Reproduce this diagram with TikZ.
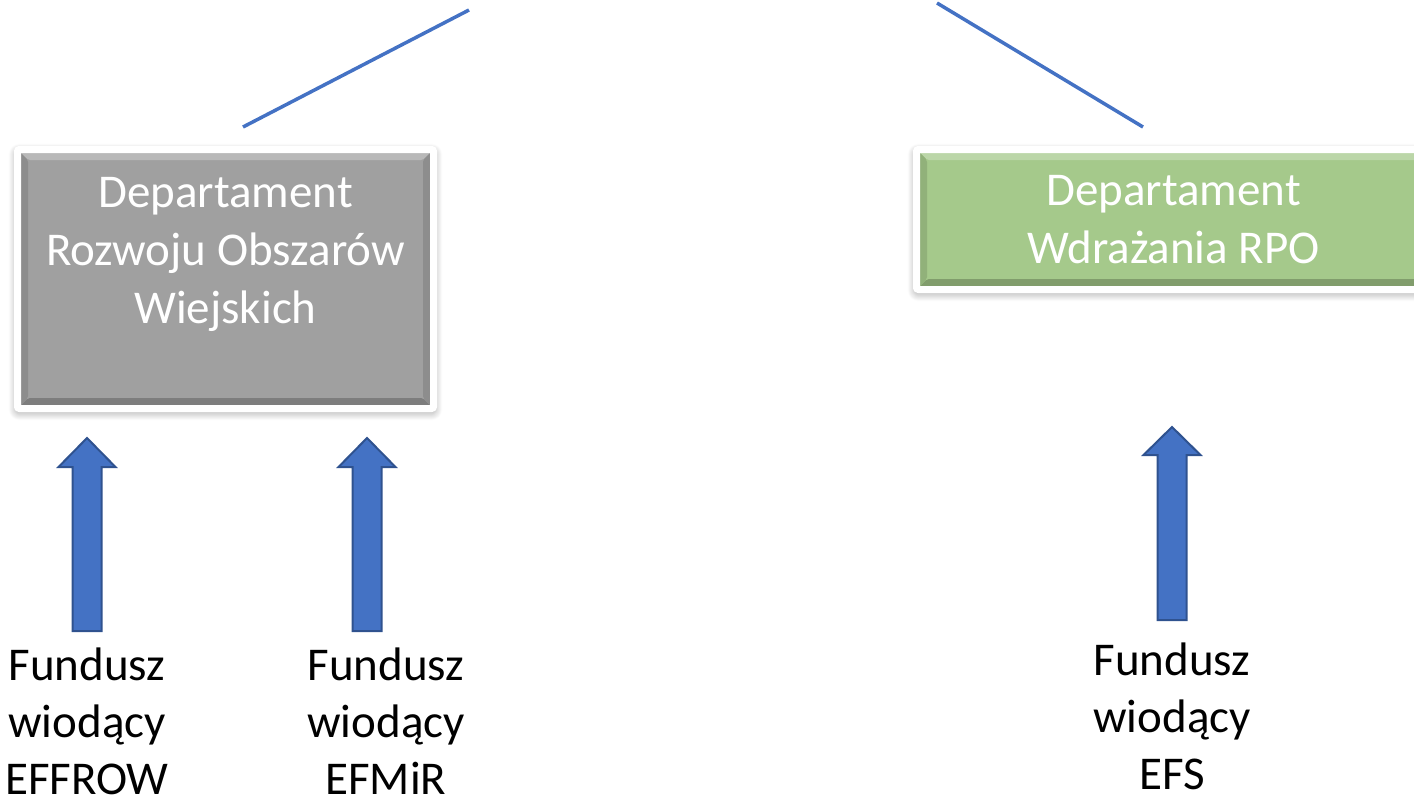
\documentclass[tikz,border=0pt]{standalone}
\usepackage{fontspec}
\setmainfont{Carlito}
\usetikzlibrary{positioning, shadows.blur, calc}
\definecolor{DeptGray}{HTML}{A0A0A0}
\definecolor{DeptGreen}{HTML}{A5C98B}
\definecolor{OfficeBlue}{HTML}{4472C4}
\definecolor{OfficeBlueDark}{HTML}{2F528F}
\tikzset{
    deptbox/.style={
        draw=white, line width=7pt, fill=#1, rounded corners=2pt,
        text=white, align=center, inner sep=0pt,
        font=\fontsize{47}{58}\selectfont,
        blur shadow={shadow xshift=0pt, shadow yshift=-3pt, shadow blur radius=9pt,
            shadow blur steps=12, shadow opacity=45},
        path picture={
            \coordinate (nw) at (path picture bounding box.north west);
            \coordinate (ne) at (path picture bounding box.north east);
            \coordinate (sw) at (path picture bounding box.south west);
            \coordinate (se) at (path picture bounding box.south east);
            \fill[#1!75!white] (nw) -- (ne) -- ($(ne)+(-10.5pt,-10.5pt)$) -- ($(nw)+(10.5pt,-10.5pt)$) -- cycle;
            \fill[#1!78!black] (sw) -- (se) -- ($(se)+(-10.5pt,10.5pt)$) -- ($(sw)+(10.5pt,10.5pt)$) -- cycle;
            \fill[#1!88!black] (nw) -- (sw) -- ($(sw)+(10.5pt,10.5pt)$) -- ($(nw)+(10.5pt,-10.5pt)$) -- cycle;
            \fill[#1!88!black] (ne) -- (se) -- ($(se)+(-10.5pt,10.5pt)$) -- ($(ne)+(-10.5pt,-10.5pt)$) -- cycle;
        }
    },
    blockarrow/.style={
        fill=OfficeBlue, draw=OfficeBlueDark, line width=2pt, line join=miter
    },
    fundlabel/.style={
        align=center, inner sep=0pt, font=\fontsize{47}{57}\selectfont
    },
    link/.style={
        OfficeBlue, line width=3.5pt
    }
}
\begin{document}
\begin{tikzpicture}[x=1pt, y=-1pt]
    \useasboundingbox (0,0) rectangle (1414,804);

    % --- departamenty ---
    \node[deptbox=DeptGray, minimum width=416, minimum height=259] (drow) at (225.5,279)
        {Departament\\Rozwoju Obszarów\\Wiejskich\\\mbox{}};
    \node[deptbox=DeptGreen, minimum width=514, minimum height=140] (drpo) at (1173.5,219.5)
        {Departament\\Wdrażania RPO};

    % linie do jednostki nadrzędnej
    \coordinate (drow-in) at (243,127);
    \coordinate (drow-up) at (469,10);
    \coordinate (drpo-in) at (1143,127);
    \coordinate (drpo-up) at (937,3);
    \draw[link] (drow-in) -- (drow-up);
    \draw[link] (drpo-in) -- (drpo-up);

    % --- strzałki funduszy ---
    \foreach \ax/\tipy/\heady/\boty in {87/438/467/631, 367/438/467/631, 1172/427/455/620}{
        \draw[blockarrow] (\ax,\tipy) -- (\ax+28.5,\heady) -- (\ax+14.5,\heady)
            -- (\ax+14.5,\boty) -- (\ax-14.5,\boty) -- (\ax-14.5,\heady)
            -- (\ax-28.5,\heady) -- cycle;
    }

    % fundusze wiodące
    \node[fundlabel] (effrow) at (87,721.5) {Fundusz\\wiodący\\EFFROW};
    \node[fundlabel] (efmir) at (386,721.5) {Fundusz\\wiodący\\EFMiR};
    \node[fundlabel] (efs) at (1172,716) {Fundusz\\wiodący\\EFS};
\end{tikzpicture}
\end{document}
